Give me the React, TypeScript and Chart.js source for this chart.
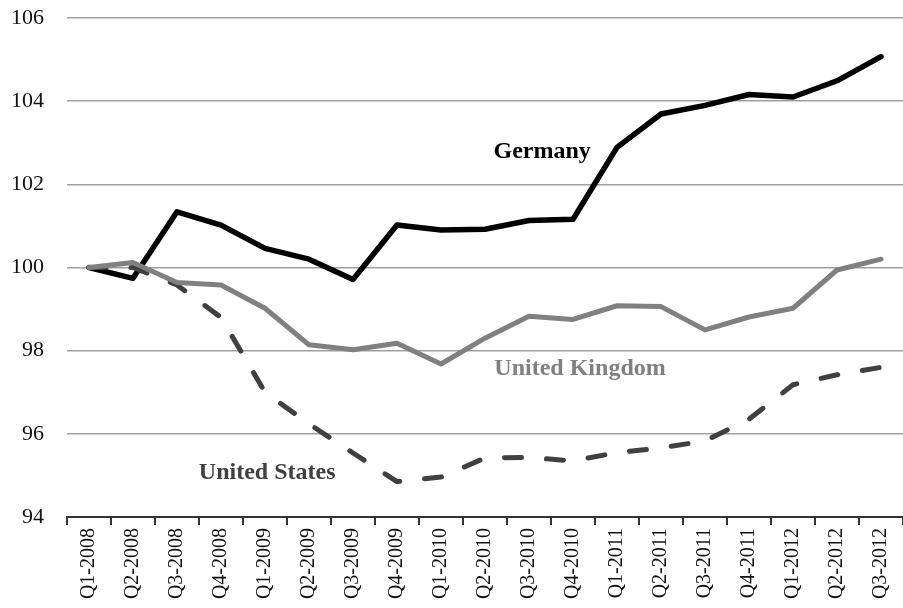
import React, { useEffect, useRef } from "react";
import { Chart, registerables } from "chart.js";

Chart.register(...registerables);

const categories = [
  "Q1-2008", "Q2-2008", "Q3-2008", "Q4-2008",
  "Q1-2009", "Q2-2009", "Q3-2009", "Q4-2009",
  "Q1-2010", "Q2-2010", "Q3-2010", "Q4-2010",
  "Q1-2011", "Q2-2011", "Q3-2011", "Q4-2011",
  "Q1-2012", "Q2-2012", "Q3-2012",
];

const germany = [
  100, 99.74, 101.34, 101.02, 100.46, 100.2, 99.71, 101.02, 100.9, 100.92,
  101.13, 101.16, 102.89, 103.69, 103.9, 104.16, 104.1, 104.49, 105.07,
];

const unitedKingdom = [
  100, 100.12, 99.64, 99.58, 99.02, 98.14, 98.02, 98.18, 97.68, 98.3,
  98.83, 98.75, 99.08, 99.06, 98.5, 98.81, 99.02, 99.94, 100.2,
];

const unitedStates = [
  100, 100.0, 99.58, 98.8, 97.0, 96.24, 95.54, 94.85, 94.96, 95.42,
  95.43, 95.35, 95.55, 95.66, 95.83, 96.35, 97.18, 97.42, 97.6,
];

const yTicks = [94, 96, 98, 100, 102, 104, 106];

// series labels placed in data coordinates (category index, value)
const seriesLabels = [
  { text: "Germany", index: 10.3, value: 102.78, color: "#000000" },
  { text: "United Kingdom", index: 11.16, value: 97.56, color: "#808080" },
  { text: "United States", index: 4.05, value: 95.06, color: "#404040" },
];

const FONT = "'Liberation Serif', 'DejaVu Serif', serif";

const labelPlugin = {
  id: "seriesLabels",
  afterDatasetsDraw(chart: any) {
    const { ctx, scales } = chart;
    ctx.save();
    ctx.font = `bold 24px ${FONT}`;
    ctx.textAlign = "center";
    ctx.textBaseline = "middle";
    for (const l of seriesLabels) {
      ctx.fillStyle = l.color;
      ctx.fillText(l.text, scales.x.getPixelForValue(l.index), scales.y.getPixelForValue(l.value));
    }
    ctx.restore();
  },
};

export default function App() {
  const ref = useRef<HTMLCanvasElement>(null);
  useEffect(() => {
    if (!ref.current) return;
    const chart = new Chart(ref.current, {
      type: "line",
      data: {
        labels: categories,
        datasets: [
          {
            label: "United Kingdom",
            data: unitedKingdom,
            borderColor: "#808080",
            borderWidth: 5,
            pointRadius: 0,
            tension: 0,
            borderJoinStyle: "round",
            borderCapStyle: "round",
          },
          {
            label: "United States",
            data: unitedStates,
            borderColor: "#404040",
            borderWidth: 5,
            pointRadius: 0,
            tension: 0,
            borderDash: [17, 25],
            borderJoinStyle: "round",
            borderCapStyle: "round",
          },
          {
            label: "Germany",
            data: germany,
            borderColor: "#000000",
            borderWidth: 5.5,
            pointRadius: 0,
            tension: 0,
            borderJoinStyle: "round",
            borderCapStyle: "round",
          },
        ],
      },
      options: {
        animation: false,
        responsive: false,
        layout: { padding: { top: 18, right: 0, left: 0, bottom: 0 } },
        plugins: { legend: { display: false }, tooltip: { enabled: false } },
        scales: {
          x: {
            offset: true,
            grid: {
              offset: true,
              drawOnChartArea: false,
              drawTicks: true,
              tickLength: 8,
              color: "#333333",
              lineWidth: 2,
            },
            border: { display: true, color: "#333333", width: 2 },
            ticks: {
              autoSkip: false,
              maxRotation: 90,
              minRotation: 90,
              padding: 3,
              color: "#111111",
              font: { family: FONT, size: 20 },
            },
            afterFit(scale: any) {
              scale.height = 91;
              scale.paddingLeft = 0;
              scale.paddingRight = 0;
            },
          },
          y: {
            min: yTicks[0],
            max: yTicks[yTicks.length - 1],
            afterBuildTicks(scale: any) {
              scale.ticks = yTicks.map((v) => ({ value: v }));
            },
            grid: { color: "#a0a0a0", lineWidth: 1.5, drawTicks: false },
            border: { display: false },
            ticks: {
              padding: 23,
              color: "#111111",
              font: { family: FONT, size: 22 },
            },
            afterFit(scale: any) {
              scale.width = 67;
              scale.paddingTop = 0;
              scale.paddingBottom = 0;
            },
          },
        },
      },
      plugins: [labelPlugin],
    });
    return () => chart.destroy();
  }, []);
  return (
    <canvas
      ref={ref}
      width={903}
      height={608}
      style={{ position: "absolute", left: 0, top: 0, width: 903, height: 608 }}
    />
  );
}
